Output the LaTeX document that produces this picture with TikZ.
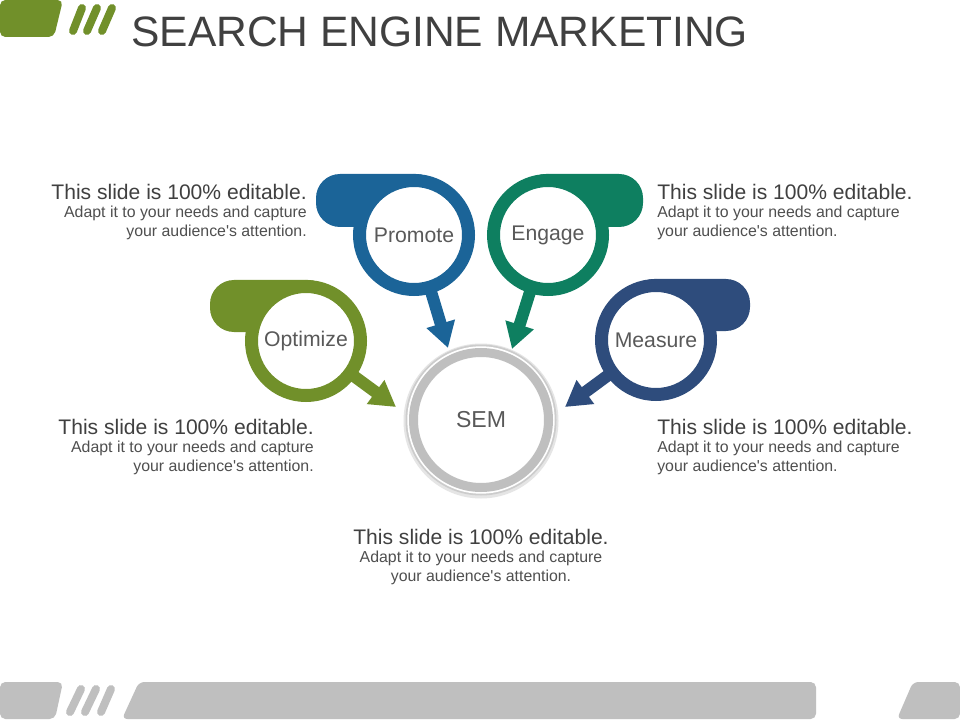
\documentclass[tikz,border=0pt]{standalone}
\usepackage{fontspec}
\setmainfont{Liberation Sans}
\usetikzlibrary{arrows.meta}

\definecolor{promblue}{HTML}{1B6498}
\definecolor{enggreen}{HTML}{0E7F60}
\definecolor{optolive}{HTML}{71902A}
\definecolor{measnavy}{HTML}{2E4C7C}
\definecolor{semgray}{HTML}{BFBFBF}
\definecolor{txtdark}{HTML}{404040}
\definecolor{txtgray}{HTML}{4F4F4F}
\definecolor{lbltxt}{HTML}{595959}

\tikzset{
  ring/.style={circle, draw=#1, fill=white, line width=9.75pt, minimum size=81.75pt,
    inner sep=0pt, outer sep=0pt, text=lbltxt, font=\fontsize{15.9}{18}\selectfont},
  pointer/.style={#1, line width=9pt, -{Triangle[width=21pt,length=19pt]}},
  tab/.style={fill=#1, rounded corners=18pt},
  headtxt/.style={font=\fontsize{15.8}{18}\selectfont, text=txtdark, inner sep=0pt},
  subtxt/.style={font=\fontsize{11.9}{14}\selectfont, text=txtgray, inner sep=0pt},
  barpart/.style={fill=semgray, rounded corners=4pt},
  slash/.style={line width=6pt, line cap=round},
}

\begin{document}
\begin{tikzpicture}[x=0.75pt, y=0.75pt]
\fill[white] (0,0) rectangle (960,-720);
\useasboundingbox (0,0) rectangle (960,-720);

% header mark and title
\fill[optolive, rounded corners=4pt] (0,0) -- (63,0) -- (54,-37) -- (0,-37) -- cycle;
\draw[slash, optolive] (82,-8) -- (73,-31);
\draw[slash, optolive] (97,-8) -- (87,-31);
\draw[slash, optolive] (112,-8) -- (102,-31);
\node[anchor=base west, inner sep=0pt, text=txtdark, font=\fontsize{31.9}{36}\selectfont] (title) at (131,-47) {SEARCH ENGINE MARKETING};

% footer bar
\fill[barpart] (0,-682) -- (63,-682) -- (55,-719) -- (0,-719) -- cycle;
\draw[slash, semgray] (81,-689) -- (70,-712);
\draw[slash, semgray] (96,-689) -- (85,-712);
\draw[slash, semgray] (111,-689) -- (101,-712);
\fill[barpart] (139,-682) -- (816,-682) -- (816,-719) -- (122,-719) -- cycle;
\fill[barpart] (913,-682) -- (960,-682) -- (960,-719) -- (897,-719) -- cycle;

% text blocks
\node[headtxt, anchor=base east] (promHead) at (307,-200) {This slide is 100\% editable.};
\node[subtxt, anchor=base east] (promSubA) at (307,-218) {Adapt it to your needs and capture};
\node[subtxt, anchor=base east] (promSubB) at (307,-237) {your audience\textquotesingle s attention.};

\node[headtxt, anchor=base west] (engHead) at (657,-200) {This slide is 100\% editable.};
\node[subtxt, anchor=base west] (engSubA) at (657,-218) {Adapt it to your needs and capture};
\node[subtxt, anchor=base west] (engSubB) at (657,-237) {your audience\textquotesingle s attention.};

\node[headtxt, anchor=base east] (optHead) at (314,-434) {This slide is 100\% editable.};
\node[subtxt, anchor=base east] (optSubA) at (314,-452) {Adapt it to your needs and capture};
\node[subtxt, anchor=base east] (optSubB) at (314,-471) {your audience\textquotesingle s attention.};

\node[headtxt, anchor=base west] (measHead) at (657,-434) {This slide is 100\% editable.};
\node[subtxt, anchor=base west] (measSubA) at (657,-452) {Adapt it to your needs and capture};
\node[subtxt, anchor=base west] (measSubB) at (657,-471) {your audience\textquotesingle s attention.};

\node[headtxt, anchor=base] (semHead) at (481,-544) {This slide is 100\% editable.};
\node[subtxt, anchor=base] (semSubA) at (481,-562) {Adapt it to your needs and capture};
\node[subtxt, anchor=base] (semSubB) at (481,-581) {your audience\textquotesingle s attention.};

% centre circle
\fill[black!10] (481,-421) circle[radius=77.5];
\fill[semgray!80] (481,-420) circle[radius=75.5];
\fill[white] (481,-420) circle[radius=73.7];
\node[circle, draw=semgray, fill=white, line width=6.75pt, minimum size=101.25pt, inner sep=0pt,
  text=lbltxt, font=\fontsize{17.3}{20}\selectfont] (sem) at (481,-420) {SEM};

% tabs behind the rings
\fill[tab=promblue] (316,-174) rectangle (440,-227);
\fill[tab=enggreen] (522,-174) rectangle (643,-227);
\fill[tab=optolive] (210,-280) rectangle (332,-332);
\fill[tab=measnavy] (630,-279) rectangle (750,-331);

% rings
\node[ring=promblue] (promote) at (414,-235) {Promote};
\node[ring=enggreen] (engage) at (548,-235) {Engage};
\node[ring=optolive] (optimize) at (306,-341) {Optimize};
\node[ring=measnavy] (measure) at (656,-340) {Measure};

% arrows into SEM
\coordinate (promTip) at (448,-348);
\coordinate (engTip) at (512,-349);
\coordinate (optTip) at (396,-407);
\coordinate (measTip) at (565,-407);
\draw[pointer=promblue] (promote) -- (promTip);
\draw[pointer=enggreen] (engage) -- (engTip);
\draw[pointer=optolive] (optimize) -- (optTip);
\draw[pointer=measnavy] (measure) -- (measTip);

\end{tikzpicture}
\end{document}
